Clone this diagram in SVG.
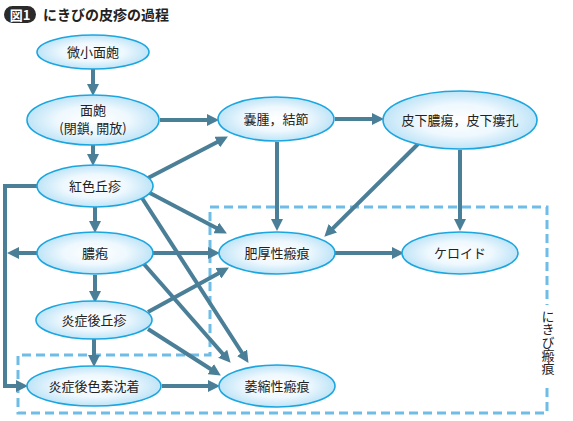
<svg xmlns="http://www.w3.org/2000/svg" width="573" height="421" viewBox="0 0 573 421">
<defs>
<radialGradient id="g" cx="50%" cy="50%" r="50%">
<stop offset="0" stop-color="#ffffff"/>
<stop offset="0.55" stop-color="#eef8fe"/>
<stop offset="1" stop-color="#bfe4f7"/>
</radialGradient>
<marker id="ah" markerUnits="userSpaceOnUse" markerWidth="12" markerHeight="12" refX="5" refY="6" orient="auto">
<path d="M0,0 L12,6 L0,12 z" fill="#4a7f97"/>
</marker>
<style>
.n ellipse{fill:url(#g);stroke:#1ba6e0;stroke-width:1.6}
.n text{font-family:"Noto Sans CJK JP","Noto Sans",sans-serif;font-size:13px;fill:#222;text-anchor:middle}
.c line,.c polyline{stroke:#4a7f97;stroke-width:4;fill:none;marker-end:url(#ah)}
.d{fill:none;stroke:#6fbde6;stroke-width:3;stroke-dasharray:9 5}
</style>
</defs>
<rect width="573" height="421" fill="#fff"/>
<g id="title">
<rect x="4" y="6" width="32" height="17" rx="8.5" fill="#2a2a2a"/>
<text x="20" y="19.5" font-family="'Noto Sans CJK JP',sans-serif" font-size="13" font-weight="bold" fill="#fff" text-anchor="middle">図1</text>
<text x="43" y="20" font-family="'Noto Sans CJK JP',sans-serif" font-size="14" font-weight="bold" fill="#222">にきびの皮疹の過程</text>
</g>
<g id="frames">
<path class="d" d="M210,207 H547 V413 H18 V355 H210 Z"/>
<rect x="539" y="305" width="18" height="78" fill="#fff"/>
<text x="548" y="310" font-family="'Noto Sans CJK JP',sans-serif" font-size="13" fill="#222" style="writing-mode:vertical-rl" writing-mode="tb">にきび瘢痕</text>
</g>
<g id="connectors" class="c">
<line x1="93" y1="69" x2="93" y2="89"/>
<line x1="93" y1="145" x2="93" y2="159"/>
<line x1="160" y1="120" x2="212" y2="120"/>
<line x1="148" y1="178" x2="221.7" y2="139.8"/>
<line x1="148" y1="192" x2="220.7" y2="230.2"/>
<line x1="142" y1="198" x2="244.7" y2="357"/>
<line x1="95" y1="207" x2="95" y2="226"/>
<polyline points="37,186 5,186 5,386 21,386"/>
<line x1="37" y1="253" x2="14" y2="253"/>
<line x1="153" y1="253" x2="213" y2="253"/>
<line x1="143" y1="263" x2="226" y2="357.5"/>
<line x1="95" y1="275" x2="95" y2="296"/>
<line x1="148" y1="312" x2="222.8" y2="270.9"/>
<line x1="148" y1="329" x2="214.9" y2="371.8"/>
<line x1="94" y1="339" x2="94" y2="360"/>
<line x1="162" y1="386" x2="213" y2="386"/>
<line x1="335" y1="119" x2="377" y2="119"/>
<line x1="277" y1="142" x2="277" y2="224"/>
<line x1="418" y1="144" x2="329.3" y2="231.8"/>
<line x1="460" y1="150" x2="460" y2="224"/>
<line x1="335" y1="253" x2="397" y2="253"/>
</g>
<g id="n1" class="n"><ellipse cx="93" cy="52" rx="56" ry="17"/><text x="93" y="57">微小面皰</text></g>
<g id="n2" class="n"><ellipse cx="93" cy="120" rx="66" ry="25"/><text x="93" y="115">面皰</text><text x="93" y="133">(閉鎖, 開放)</text></g>
<g id="n3" class="n"><ellipse cx="95" cy="186" rx="58" ry="21"/><text x="95" y="191">紅色丘疹</text></g>
<g id="n4" class="n"><ellipse cx="95" cy="253" rx="58" ry="21"/><text x="95" y="258">膿疱</text></g>
<g id="n5" class="n"><ellipse cx="94" cy="320" rx="58" ry="19"/><text x="94" y="325">炎症後丘疹</text></g>
<g id="n6" class="n"><ellipse cx="94" cy="386" rx="67" ry="20"/><text x="94" y="391">炎症後色素沈着</text></g>
<g id="n7" class="n"><ellipse cx="276" cy="119" rx="58" ry="22"/><text x="276" y="124">嚢腫，結節</text></g>
<g id="n8" class="n"><ellipse cx="460" cy="120" rx="77" ry="29"/><text x="460" y="125">皮下膿瘍，皮下瘻孔</text></g>
<g id="n9" class="n"><ellipse cx="277" cy="253" rx="58" ry="21"/><text x="277" y="258">肥厚性瘢痕</text></g>
<g id="n10" class="n"><ellipse cx="460" cy="253" rx="58" ry="21"/><text x="460" y="258">ケロイド</text></g>
<g id="n11" class="n"><ellipse cx="277" cy="386" rx="58" ry="21"/><text x="277" y="391">萎縮性瘢痕</text></g>
</svg>
